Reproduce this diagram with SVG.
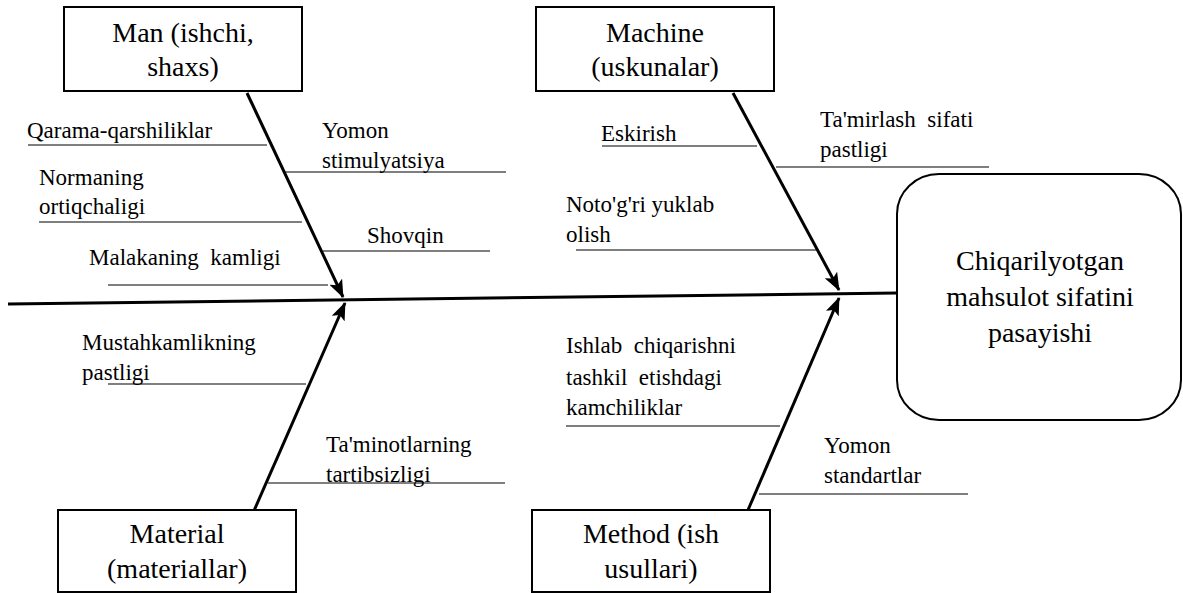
<svg xmlns="http://www.w3.org/2000/svg" width="1183" height="593" viewBox="0 0 1183 593" font-family="Liberation Serif, serif">
<style>
.box{fill:#fff;stroke:#000;stroke-width:2}
.bt{font-size:28px;fill:#000;text-anchor:middle}
.lt{font-size:23px;fill:#000}
.bone{stroke:#000;stroke-width:3;fill:none}
.sub{stroke:#000;stroke-width:1.2;fill:none}
</style>
<defs>
<marker id="ah" markerUnits="userSpaceOnUse" markerWidth="18" markerHeight="14" refX="17" refY="7" orient="auto">
<path d="M0,0 L18,7 L0,14 L4,7 z" fill="#000"/>
</marker>
</defs>
<g id="connectors">
<line class="bone" x1="8" y1="304" x2="897" y2="293"/>
<line class="bone" x1="247" y1="93" x2="343" y2="297" marker-end="url(#ah)"/>
<line class="bone" x1="733" y1="93" x2="839" y2="290" marker-end="url(#ah)"/>
<line class="bone" x1="253" y1="513" x2="345" y2="303" marker-end="url(#ah)"/>
<line class="bone" x1="748" y1="510" x2="839" y2="298" marker-end="url(#ah)"/>
<line class="sub" x1="28" y1="145" x2="267" y2="145"/>
<line class="sub" x1="285" y1="172" x2="506" y2="172"/>
<line class="sub" x1="39" y1="222" x2="302" y2="222"/>
<line class="sub" x1="323" y1="251" x2="490" y2="251"/>
<line class="sub" x1="108" y1="285" x2="328" y2="285"/>
<line class="sub" x1="602" y1="146" x2="757" y2="146"/>
<line class="sub" x1="776" y1="167" x2="989" y2="167"/>
<line class="sub" x1="576" y1="250" x2="816" y2="250"/>
<line class="sub" x1="108" y1="384" x2="306" y2="384"/>
<line class="sub" x1="268" y1="483" x2="505" y2="483"/>
<line class="sub" x1="566" y1="426" x2="780" y2="426"/>
<line class="sub" x1="759" y1="494" x2="968" y2="494"/>
</g>
<g id="man">
<rect class="box" x="64" y="7" width="238" height="84"/>
<text class="bt" x="183" y="42">Man (ishchi,</text>
<text class="bt" x="183" y="76">shaxs)</text>
</g>
<g id="machine">
<rect class="box" x="536" y="7" width="238" height="84"/>
<text class="bt" x="655" y="42">Machine</text>
<text class="bt" x="655" y="76">(uskunalar)</text>
</g>
<g id="material">
<rect class="box" x="58" y="510" width="238" height="82"/>
<text class="bt" x="177" y="543">Material</text>
<text class="bt" x="177" y="578">(materiallar)</text>
</g>
<g id="method">
<rect class="box" x="532" y="510" width="238" height="82"/>
<text class="bt" x="651" y="543">Method (ish</text>
<text class="bt" x="651" y="578">usullari)</text>
</g>
<g id="result">
<rect class="box" x="897" y="174" width="284" height="246" rx="42" ry="40"/>
<text class="bt" x="1040" y="270">Chiqarilyotgan</text>
<text class="bt" x="1040" y="306">mahsulot sifatini</text>
<text class="bt" x="1040" y="342">pasayishi</text>
</g>
<g id="labels">
<text class="lt" x="27" y="138">Qarama-qarshiliklar</text>
<text class="lt" x="322" y="138">Yomon</text>
<text class="lt" x="322" y="168">stimulyatsiya</text>
<text class="lt" x="39" y="185">Normaning</text>
<text class="lt" x="39" y="214">ortiqchaligi</text>
<text class="lt" x="367" y="243">Shovqin</text>
<text class="lt" x="89" y="265" xml:space="preserve">Malakaning  kamligi</text>
<text class="lt" x="601" y="141">Eskirish</text>
<text class="lt" x="820" y="127" xml:space="preserve">Ta'mirlash  sifati</text>
<text class="lt" x="820" y="157">pastligi</text>
<text class="lt" x="566" y="212">Noto'g'ri yuklab</text>
<text class="lt" x="566" y="242">olish</text>
<text class="lt" x="82" y="350">Mustahkamlikning</text>
<text class="lt" x="82" y="380">pastligi</text>
<text class="lt" x="326" y="452">Ta'minotlarning</text>
<text class="lt" x="326" y="482">tartibsizligi</text>
<text class="lt" x="566" y="353" xml:space="preserve">Ishlab  chiqarishni</text>
<text class="lt" x="566" y="385" xml:space="preserve">tashkil  etishdagi</text>
<text class="lt" x="566" y="415">kamchiliklar</text>
<text class="lt" x="824" y="453">Yomon</text>
<text class="lt" x="824" y="483">standartlar</text>
</g>
</svg>
